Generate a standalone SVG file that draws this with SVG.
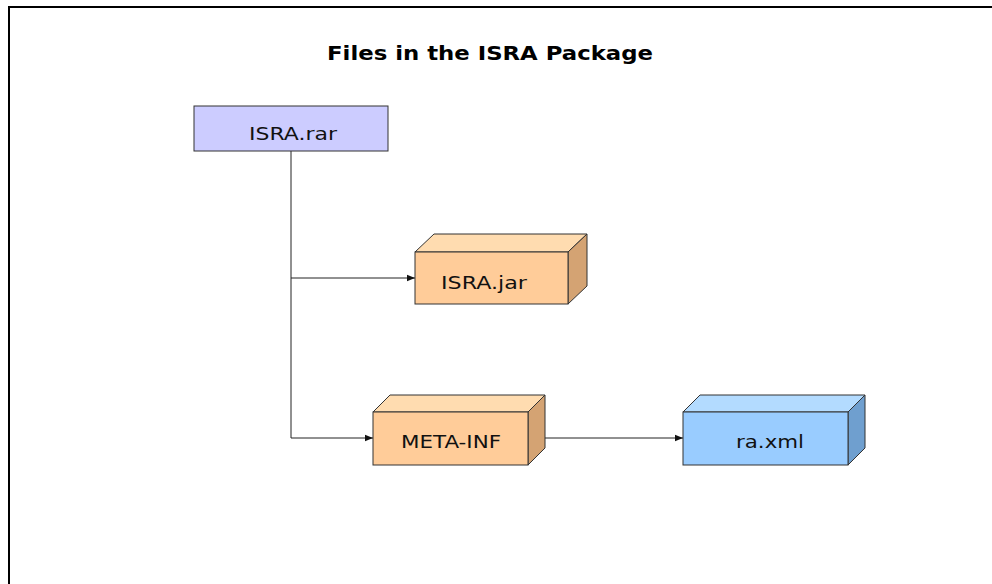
<svg xmlns="http://www.w3.org/2000/svg" width="992" height="584" viewBox="0 0 992 584">
<defs>
<style>
.lbl{font-family:"DejaVu Sans",Verdana,sans-serif;font-size:17px;fill:#111;text-anchor:middle}
.title{font-family:"DejaVu Sans",Verdana,sans-serif;font-size:19px;font-weight:bold;fill:#000;text-anchor:middle}
.edge{stroke:#222;stroke-width:1;fill:none}
.box{stroke:#333;stroke-width:1}
</style>
<marker id="arr" viewBox="0 0 10 10" refX="10" refY="5" markerWidth="8" markerHeight="8" markerUnits="userSpaceOnUse" orient="auto">
<path d="M0,1 L10,5 L0,9 z" fill="#111"/>
</marker>
</defs>
<rect x="0" y="0" width="992" height="584" fill="#fff"/>
<rect x="9" y="7" width="1000" height="600" fill="none" stroke="#000" stroke-width="2"/>
<text class="title" x="490" y="60" textLength="326" lengthAdjust="spacingAndGlyphs">Files in the ISRA Package</text>
<g id="connectors">
<path class="edge" d="M291,151 V438 H373" marker-end="url(#arr)"/>
<path class="edge" d="M291,278 H415" marker-end="url(#arr)"/>
<path class="edge" d="M528,438 H683" marker-end="url(#arr)"/>
</g>
<g id="isra-rar">
<rect class="box" x="194" y="106" width="194" height="45" fill="#ccccff"/>
<text class="lbl" x="293" y="140" textLength="88" lengthAdjust="spacingAndGlyphs">ISRA.rar</text>
</g>
<g id="isra-jar">
<polygon class="box" points="415,252 434,234 587,234 568,252" fill="#ffdcb0"/>
<polygon class="box" points="568,252 587,234 587,286 568,304" fill="#d4a373"/>
<rect class="box" x="415" y="252" width="153" height="52" fill="#ffcc99"/>
<text class="lbl" x="484" y="289" textLength="86" lengthAdjust="spacingAndGlyphs">ISRA.jar</text>
</g>
<g id="meta-inf">
<polygon class="box" points="373,412 390,395 545,395 528,412" fill="#ffdcb0"/>
<polygon class="box" points="528,412 545,395 545,448 528,465" fill="#d4a373"/>
<rect class="box" x="373" y="412" width="155" height="53" fill="#ffcc99"/>
<text class="lbl" x="451" y="448" textLength="100" lengthAdjust="spacingAndGlyphs">META-INF</text>
</g>
<g id="ra-xml">
<polygon class="box" points="683,412 700,395 865,395 848,412" fill="#b3dbff"/>
<polygon class="box" points="848,412 865,395 865,448 848,465" fill="#6f9fcf"/>
<rect class="box" x="683" y="412" width="165" height="53" fill="#99ccff"/>
<text class="lbl" x="770" y="448" textLength="68" lengthAdjust="spacingAndGlyphs">ra.xml</text>
</g>
</svg>
